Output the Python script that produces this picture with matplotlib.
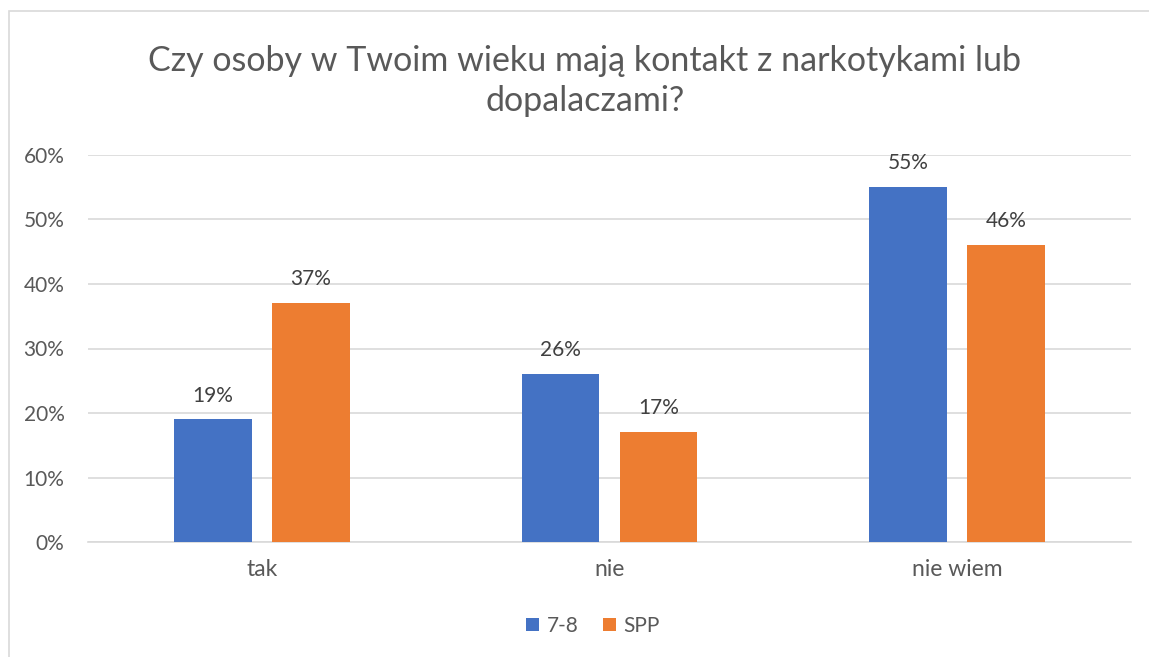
import matplotlib
matplotlib.use("Agg")
import matplotlib.pyplot as plt
from matplotlib.patches import Rectangle
import numpy as np

plt.rcParams['font.family'] = ['Lato', 'DejaVu Sans']

categories = ["tak", "nie", "nie wiem"]
series_names = ["7-8", "SPP"]
values_78 = [19, 26, 55]
values_spp = [37, 17, 46]
yticks = [0, 10, 20, 30, 40, 50, 60]
title = "Czy osoby w Twoim wieku mają kontakt z narkotykami lub\ndopalaczami?"

colors = ["#4472C4", "#ED7D31"]
W, H = 1149, 657
fig = plt.figure(figsize=(W / 100, H / 100), dpi=100)

# chart-area frame (continues past the right and bottom edges)
fig.patches.append(Rectangle((8.5 / W, -0.1), 1.2, 1 - 10.5 / H + 0.1,
                             transform=fig.transFigure, fill=False,
                             edgecolor="#D9D9D9", linewidth=1.2))

ax = fig.add_axes([88 / W, 115 / H, (1131 - 88) / W, (542 - 155) / H])

x = np.arange(len(categories))
bw = 0.224
off = 0.141
b1 = ax.bar(x - off, values_78, bw, color=colors[0], label=series_names[0], zorder=3)
b2 = ax.bar(x + off, values_spp, bw, color=colors[1], label=series_names[1], zorder=3)

for bars, vals in ((b1, values_78), (b2, values_spp)):
    for r, v in zip(bars, vals):
        ax.annotate(f"{v}%", (r.get_x() + r.get_width() / 2, v),
                    xytext=(0, 10), textcoords="offset points",
                    ha="center", va="bottom", fontsize=15, color="#404040")

ax.set_xlim(-0.5, 2.5)
ax.set_ylim(0, 60)
ax.set_yticks(yticks)
ax.set_yticklabels([f"{t}%" for t in yticks])
ax.set_xticks(x)
ax.set_xticklabels(categories)
ax.tick_params(axis="both", length=0, labelcolor="#595959")
ax.tick_params(axis="y", pad=17, labelsize=15)
ax.tick_params(axis="x", pad=12, labelsize=16.5)
ax.grid(axis="y", color="#D9D9D9", linewidth=1.2, zorder=0)
for s in ("top", "right", "left"):
    ax.spines[s].set_visible(False)
ax.spines["bottom"].set_color("#D9D9D9")
ax.spines["bottom"].set_linewidth(1.2)

fig.text(585 / W, 1 - 81 / H, title, ha="center", va="center",
         fontsize=24.5, color="#595959", linespacing=1.3)

leg = fig.legend(handles=[b1, b2], labels=series_names, loc="center",
                 bbox_to_anchor=(593 / W, 1 - 626 / H), ncol=2, frameon=False,
                 fontsize=15, handlelength=0.62, handleheight=0.62,
                 handletextpad=0.35, columnspacing=1.2)
for t in leg.get_texts():
    t.set_color("#595959")

fig.savefig("out.png", dpi=100)
